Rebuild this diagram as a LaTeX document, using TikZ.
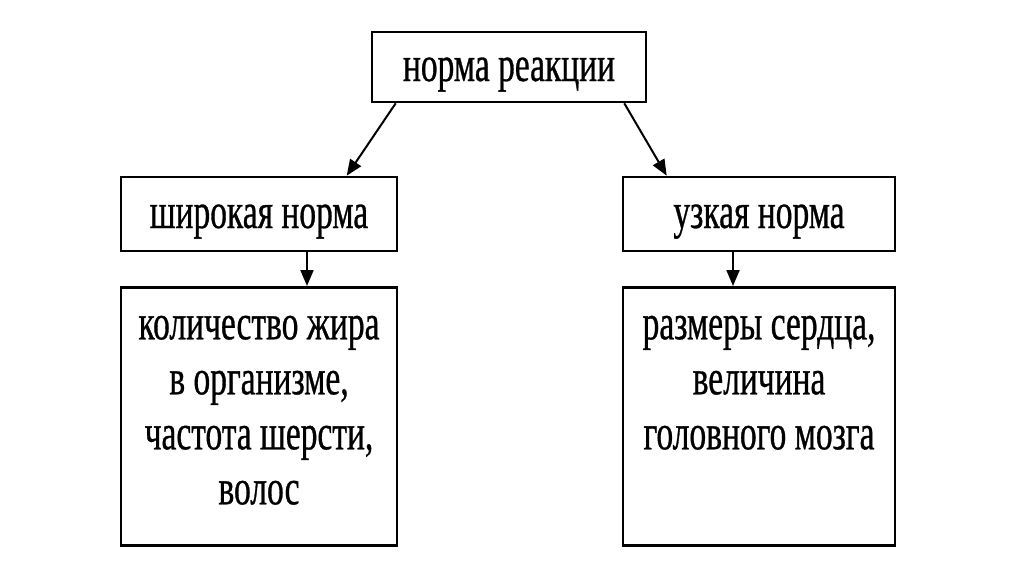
\documentclass[tikz,border=0pt]{standalone}
\usepackage{fontspec}
\setmainfont{Liberation Serif}[FakeStretch=0.67, FakeBold=0.6]
\usepackage{tikz}
\usetikzlibrary{arrows.meta}
\tikzstyle{normbox} = [draw=black, fill=white, line width=2.6pt,
    rectangle, inner sep=0pt, font=\fontsize{50}{55}\selectfont]
\tikzstyle{normtitle} = [normbox, text height=29pt, text depth=1pt]
\tikzstyle{normarrow} = [draw=black, line width=2pt,
    -{Triangle[length=16pt, width=13pt]}]

\begin{document}
\begin{tikzpicture}[x=1pt, y=-1pt]
\useasboundingbox (0,0) rectangle (1024,574);
\node [normtitle, minimum width=274pt, minimum height=70pt] (norm) at (509,67) {норма реакции};
\node [normtitle, minimum width=276pt, minimum height=74pt] (wide) at (259,214) {широкая норма};
\node [normtitle, minimum width=272pt, minimum height=74pt] (narrow) at (759,214) {узкая норма};
\node [normbox, anchor=north] (wideex) at (259,286) {
    \begin{minipage}[c][258pt][t]{276pt}
        \centering
        \rule{0pt}{52pt}количество жира\\
        в организме,\\
        частота шерсти,\\
        волос
    \end{minipage}
};
\node [normbox, anchor=north] (narrowex) at (759,286) {
    \begin{minipage}[c][258pt][t]{272pt}
        \centering
        \rule{0pt}{52pt}размеры сердца,\\
        величина\\
        головного мозга
    \end{minipage}
};
\coordinate (normL) at ([xshift=25pt]norm.south west);
\coordinate (normR) at ([xshift=-23pt]norm.south east);
\draw [normarrow] (normL) -- ([xshift=227pt]wide.north west);
\draw [normarrow] (normR) -- ([xshift=45pt]narrow.north west);
\draw [normarrow] ([xshift=48pt]wide.south) -- ([xshift=48pt]wideex.north);
\draw [normarrow] ([xshift=-26pt]narrow.south) -- ([xshift=-26pt]narrowex.north);
\end{tikzpicture}
\end{document}
